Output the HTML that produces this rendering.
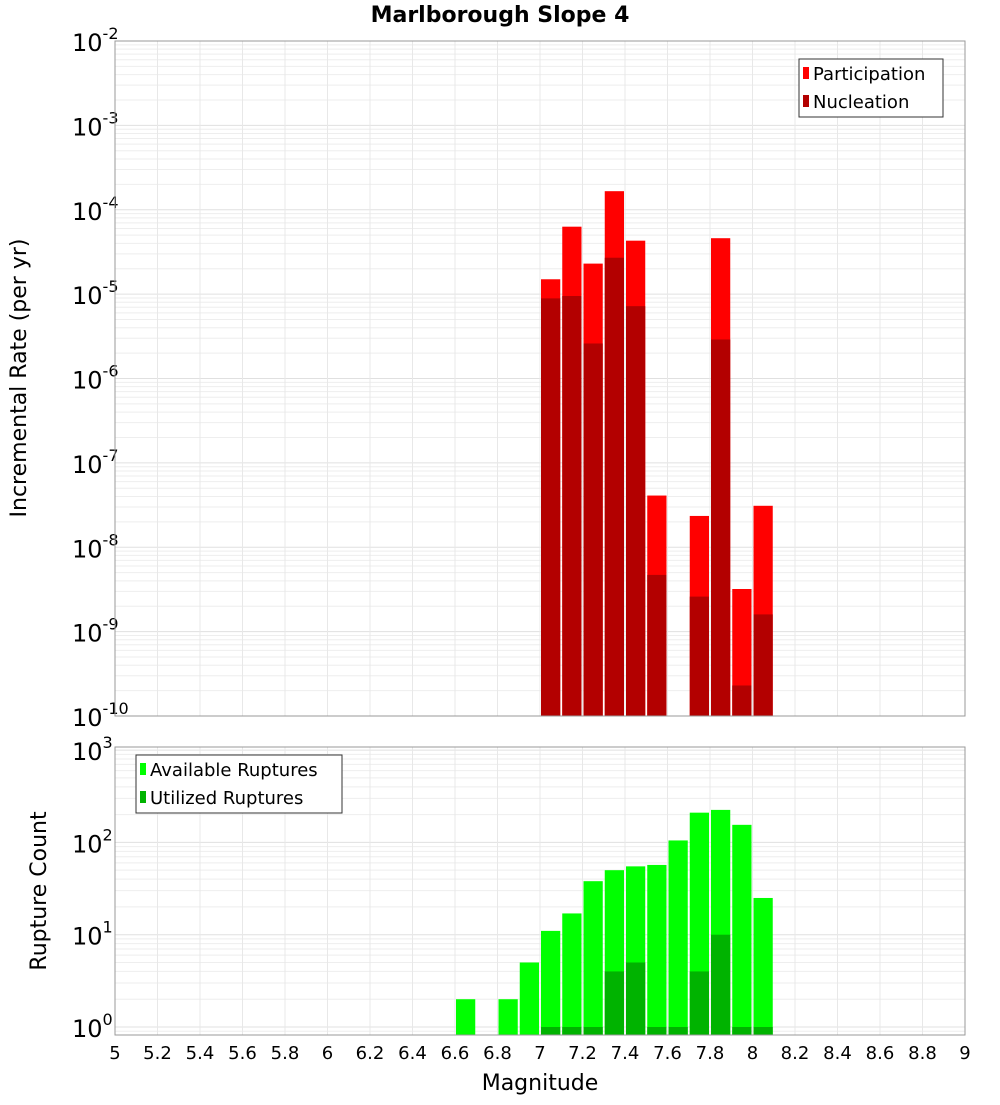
<!DOCTYPE html>
<html><head><meta charset="utf-8"><style>
body{margin:0;background:#fff;font-family:"Liberation Sans","DejaVu Sans",sans-serif}
svg text{font-family:"DejaVu Sans","Liberation Sans",sans-serif}
</style></head><body>
<svg id="c" width="1000" height="1100" xmlns="http://www.w3.org/2000/svg"></svg>
<script>
const mags=[6.65,6.75,6.85,6.95,7.05,7.15,7.25,7.35,7.45,7.55,7.65,7.75,7.85,7.95,8.05];
const participation=[0,0,0,0,1.5e-5,6.3e-5,2.3e-5,1.66e-4,4.3e-5,4.1e-8,0,2.35e-8,4.6e-5,3.2e-9,3.1e-8];
const nucleation=[0,0,0,0,8.9e-6,9.5e-6,2.6e-6,2.7e-5,7.2e-6,4.7e-9,0,2.6e-9,2.9e-6,2.3e-10,1.6e-9];
const available=[2,0,2,5,11,17,38,50,55,57,105,210,225,155,25];
const utilized=[0,0,0,0,1,1,1,4,5,1,1,4,10,1,1];
const xTicks=["5","5.2","5.4","5.6","5.8","6","6.2","6.4","6.6","6.8","7","7.2","7.4","7.6","7.8","8","8.2","8.4","8.6","8.8","9"];
const NS="http://www.w3.org/2000/svg",svg=document.getElementById('c');
function el(t,a,p){const e=document.createElementNS(NS,t);for(const k in a)e.setAttribute(k,a[k]);(p||svg).appendChild(e);return e;}
const L=115,R=965;
const X=m=>L+(m-5)*(R-L)/4;
const topP={t:41,b:716,y:v=>41+(-2-Math.log10(v))*84.375,min:-10,max:-2};
const botP={t:747,b:1035,y:v=>1027-92.3*Math.log10(v),min:0,max:3};
function frame(P,name){
  const g=el('g',{});
  
  
  for(let d=P.min-1;d<=P.max;d++)for(let k=1;k<10;k++){const y=P.y(k*Math.pow(10,d));if(y<P.t-0.5||y>P.b+0.5)continue;
    el('line',{x1:L,x2:R,y1:y,y2:y,stroke:k==1?'#e0e0e0':'#eeeeee','stroke-width':1},g);}
  for(let i=0;i<xTicks.length;i++){const x=X(5+i*0.2);el('line',{x1:x,x2:x,y1:P.t,y2:P.b,stroke:'#e8e8e8'},g);}
  for(let d=P.min;d<=P.max;d++){const y=P.y(Math.pow(10,d));
    const t=el('text',{x:72,y:y+10,'font-size':24,fill:'#000'});
    
    
    t.textContent='10';const s=el('tspan',{dy:-12,'font-size':16},t);s.textContent=String(d);}
}
function box(P,name){const r=el('rect',{x:L,y:P.t,width:R-L,height:P.b-P.t,fill:'none',stroke:'#999'});
  
  }
frame(topP,'rate');frame(botP,'count');
function bars(P,vals,color,name){
  vals.forEach((v,i)=>{if(!v)return;const x0=X(mags[i]-0.05)+1,x1=X(mags[i]+0.05)-1,y=Math.max(P.y(v),P.t);
    const r=el('rect',{x:x0,y:y,width:x1-x0,height:P.b-y,fill:color});
    
    });
}
bars(topP,participation,'#ff0000','participation');
bars(topP,nucleation,'#b30000','nucleation');
bars(botP,available,'#00ff00','available');
bars(botP,utilized,'#00b300','utilized');
box(topP,'rate');box(botP,'count');
xTicks.forEach((s,i)=>{const t=el('text',{x:X(5+i*0.2),y:1059,'font-size':18,'text-anchor':'middle'});
  
  
  t.textContent=s;});
function txt(s,a,name){const t=el('text',a);
  
  
  t.textContent=s;return t;}
txt('Marlborough Slope 4',{x:500,y:22,'font-size':22,'font-weight':'bold','text-anchor':'middle'},'chart-title');
txt('Magnitude',{x:540,y:1090,'font-size':22,'text-anchor':'middle'},'x-axis-title');
txt('Incremental Rate (per yr)',{x:0,y:0,'font-size':22,'text-anchor':'middle',transform:'translate(26,378) rotate(-90)'},'y-axis-title-rate');
txt('Rupture Count',{x:0,y:0,'font-size':22,'text-anchor':'middle',transform:'translate(46,891) rotate(-90)'},'y-axis-title-count');
function legend(x,y,w,items,name){const g=el('g',{});
  
  
  el('rect',{x:x,y:y,width:w,height:58,fill:'#fff',stroke:'#333'},g);
  items.forEach((it,i)=>{const yy=y+14+i*28;el('rect',{x:x+4,y:yy-6,width:6,height:12,fill:it[1]},g);
    const t=el('text',{x:x+14,y:yy+7,'font-size':18},g);
    
    
    t.textContent=it[0];});}
legend(799,59,144,[['Participation','#ff0000'],['Nucleation','#b30000']],'rate-legend');
legend(136,755,206,[['Available Ruptures','#00ff00'],['Utilized Ruptures','#00b300']],'count-legend');
</script></body></html>
